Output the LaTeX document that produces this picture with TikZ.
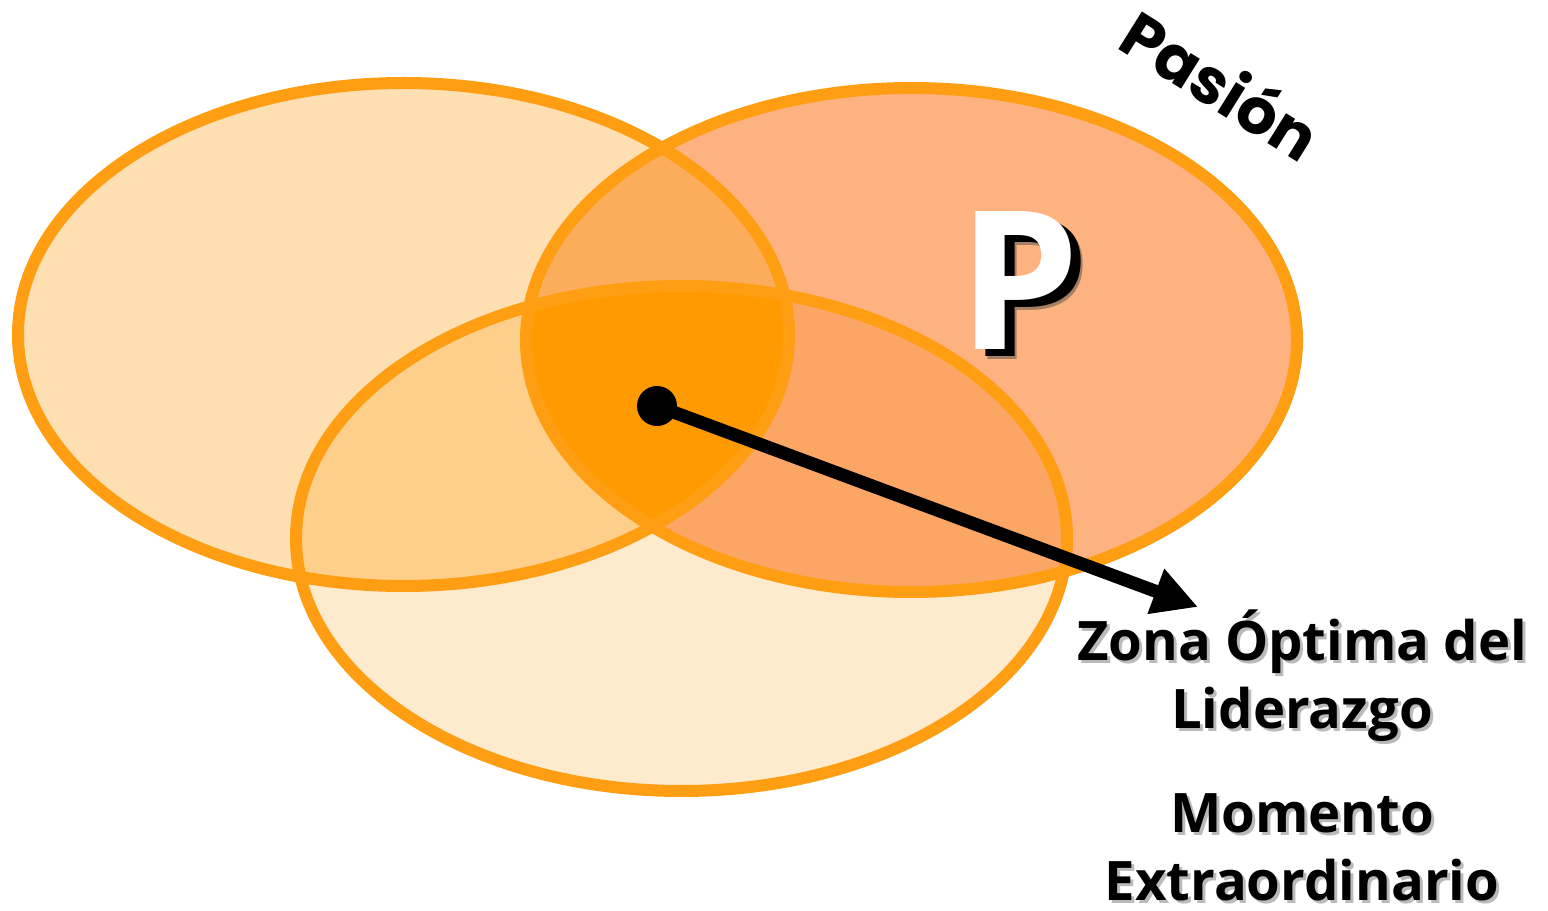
\documentclass[tikz,border=0pt]{standalone}
\usepackage{fontspec}
\setmainfont{Open Sans}
\newfontfamily\pasionfont{Poppins}
\usetikzlibrary{arrows.meta}
\definecolor{borde}{HTML}{FF9E12}
\definecolor{fondoIzq}{HTML}{FDDFB1}
\definecolor{fondoDer}{HTML}{FDB27F}
\definecolor{fondoAbajo}{HTML}{FEEACD}
\definecolor{izqDer}{HTML}{FBAD5C}
\definecolor{izqAbajo}{HTML}{FDCF8A}
\definecolor{derAbajo}{HTML}{FBA664}
\definecolor{zonaOptima}{HTML}{FF9B00}
\newcommand*{\anilloIzq}{(403.5,334.5) ellipse [x radius=385.5, y radius=251.5]}
\newcommand*{\anilloDer}{(911.5,340) ellipse [x radius=385.5, y radius=252]}
\newcommand*{\anilloAbajo}{(681.5,538.5) ellipse [x radius=385.5, y radius=252.5]}

\begin{document}
\begin{tikzpicture}[x=0.02cm, y=-0.02cm,
    anillo/.style={draw=borde, line width=0.24cm},
    rotulo/.style={font=\bfseries\fontsize{31}{38.7}\selectfont, align=center, anchor=base,
      inner sep=1pt},
    sombra/.style={rotulo, text=black!45, opacity=0.6}]
  \useasboundingbox (0,0) rectangle (1548,911);

  % fondos
  \fill[fondoIzq] \anilloIzq;
  \fill[fondoDer] \anilloDer;
  \fill[fondoAbajo] \anilloAbajo;

  % cruces de dos
  \begin{scope}
    \clip \anilloIzq;
    \fill[izqDer] \anilloDer;
    \fill[izqAbajo] \anilloAbajo;
  \end{scope}
  \begin{scope}
    \clip \anilloDer;
    \fill[derAbajo] \anilloAbajo;
  \end{scope}

  % cruce de los tres
  \begin{scope}
    \clip \anilloIzq;
    \clip \anilloDer;
    \fill[zonaOptima] \anilloAbajo;
  \end{scope}

  % bordes
  \draw[anillo] \anilloAbajo;
  \draw[anillo] \anilloIzq;
  \draw[anillo] \anilloDer;

  % letra P
  {\tikzstyle{every node}=[anchor=base west, font=\bfseries\fontsize{110}{110}\selectfont]
    \node[text=black!70, opacity=0.5] at (964,360) {P};
    \node[text=black] at (962,357) {P};
    \node[text=white] (letraP) at (952,350) {P};
  }

  \node[font=\pasionfont\bfseries\fontsize{36}{36}\selectfont, rotate=-32, anchor=base]
    (pasion) at (1208,106) {Pasión};

  % textos
  \node[sombra] at (1305,731) {Zona Óptima del\\Liderazgo};
  \node[rotulo] (zona) at (1302,728) {Zona Óptima del\\Liderazgo};
  \node[sombra] at (1305,903) {Momento\\Extraordinario};
  \node[rotulo] (momento) at (1302,900) {Momento\\Extraordinario};

  % flecha
  \node[circle, fill=black, inner sep=0, minimum size=0.8cm] (centro) at (657,406) {};
  \coordinate (punta) at (1198,607);
  \draw[-{Triangle[length=0.9cm, width=0.9cm]}, line width=0.26cm]
    (centro.center) -- (punta);
\end{tikzpicture}
\end{document}
